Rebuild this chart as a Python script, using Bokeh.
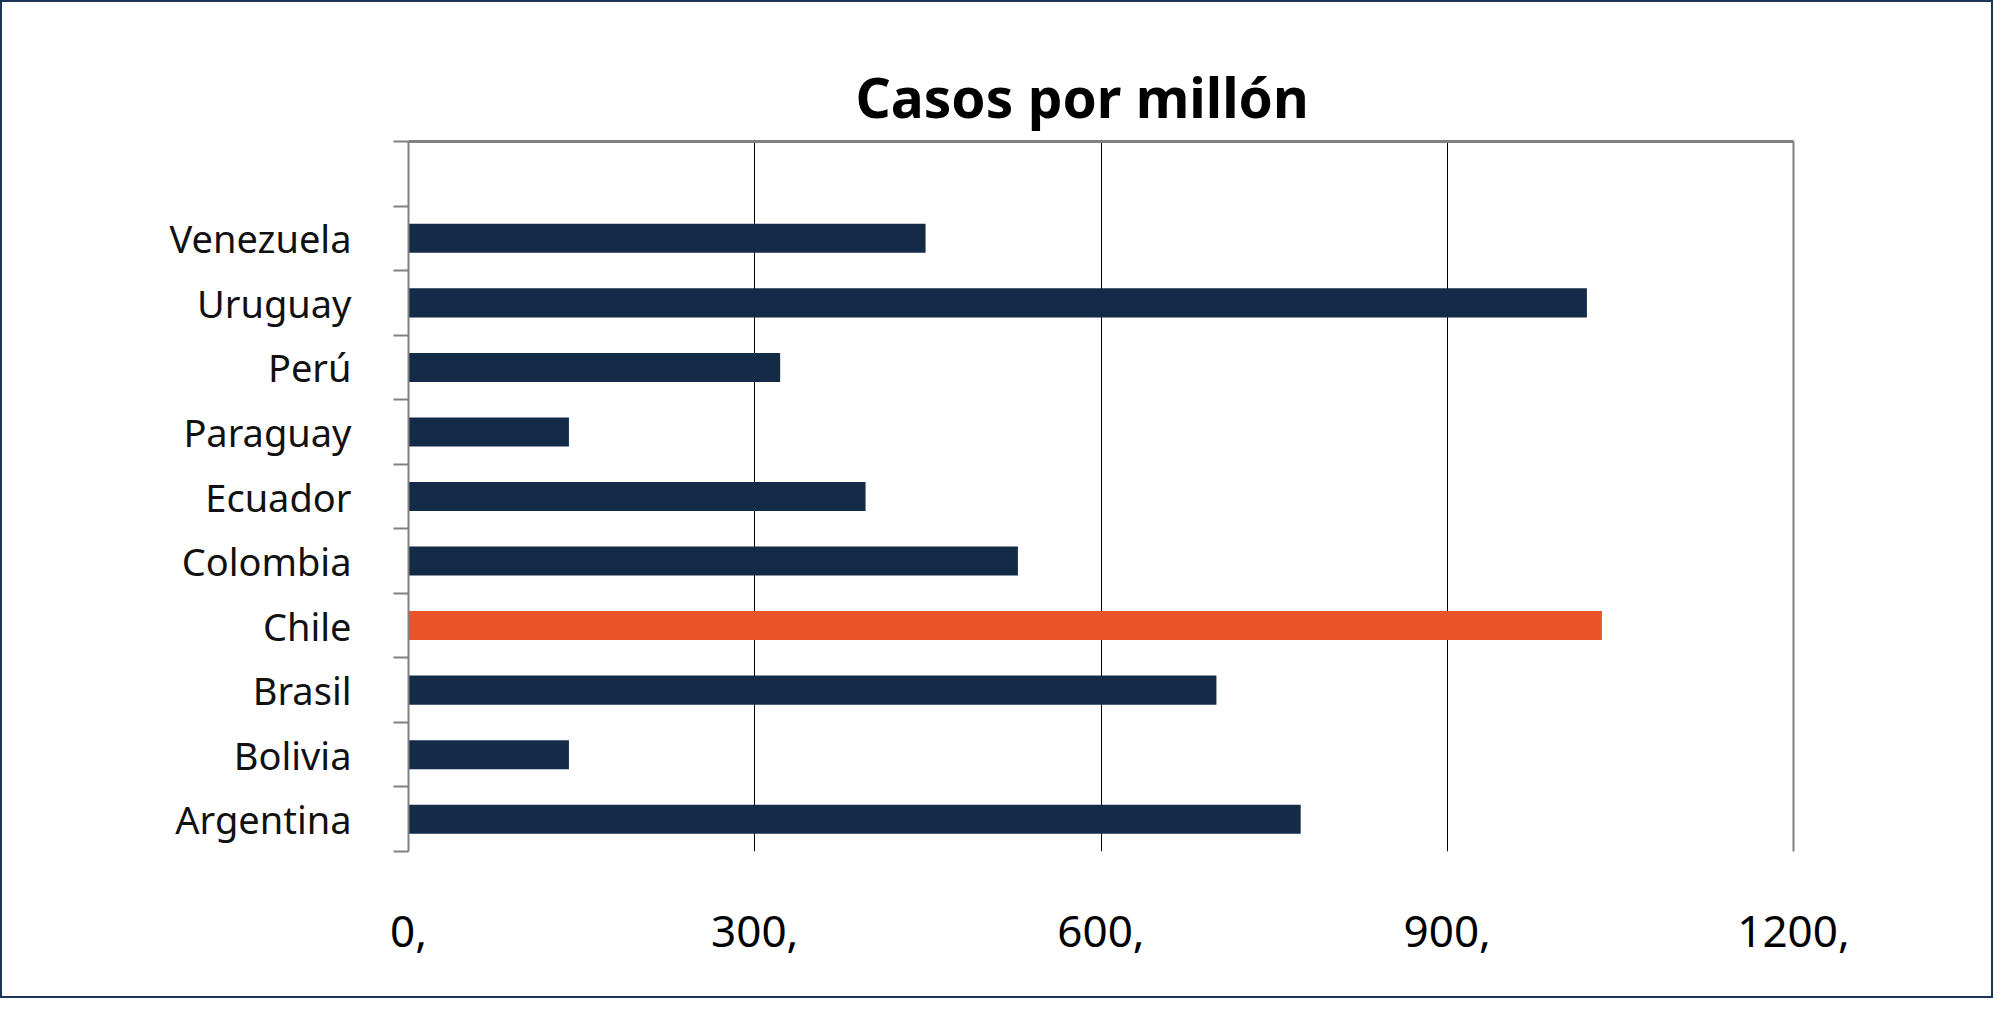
from bokeh.plotting import figure
from bokeh.models import ColumnDataSource, FixedTicker, LinearAxis, Range1d
from bokeh.embed import file_html
from bokeh.resources import INLINE

# ---- data ----
countries = ["Argentina", "Bolivia", "Brasil", "Chile", "Colombia",
             "Ecuador", "Paraguay", "Perú", "Uruguay", "Venezuela"]
cases = [773, 139, 700, 1034, 528, 396, 139, 322, 1021, 448]
highlight = "Chile"
x_ticks = [0, 300, 600, 900, 1200]
x_tick_labels = ["0,", "300,", "600,", "900,", "1200,"]
title_text = "Casos por millón"

NAVY = "#132b47"
ORANGE = "#e9532a"
FONT = "Noto Sans"

pos = list(range(len(countries)))
colors = [ORANGE if c == highlight else NAVY for c in countries]
source = ColumnDataSource(dict(pos=pos, cases=cases, country=countries, color=colors))

p = figure(width=1993, height=998, output_backend="svg", toolbar_location=None,
           x_range=Range1d(0, 1200), y_range=Range1d(-0.5, len(countries) + 0.5),
           min_border_left=406, min_border_right=202, min_border_top=139,
           min_border_bottom=149, outline_line_color=None,
           styles={"border": "2px solid #1d3557", "box-sizing": "border-box"})

p.hbar(y="pos", right="cases", left=0, height=0.45, fill_color="color",
       line_color=None, source=source)

# title
p.title.text = title_text
p.title.align = "left"
p.title.offset = 447
p.title.standoff = 16
p.title.text_font = FONT
p.title.text_font_size = "55px"
p.title.text_font_style = "bold"
p.title.text_color = "#000000"

# x axis (bottom)
xa = p.xaxis[0]
xa.ticker = FixedTicker(ticks=x_ticks)
xa.major_label_overrides = {t: l for t, l in zip(x_ticks, x_tick_labels)}
xa.axis_line_color = None
xa.major_tick_line_color = None
xa.minor_tick_line_color = None
xa.major_label_text_font = FONT
xa.major_label_text_font_size = "44px"
xa.major_label_text_color = "#000000"
xa.major_label_standoff = 58

# y axis (left): labels at centers, ticks at boundaries
ya = p.yaxis[0]
boundaries = [i - 0.5 for i in range(len(countries) + 2)]
ya.ticker = FixedTicker(ticks=pos, minor_ticks=boundaries)
ya.major_label_overrides = {i: c for i, c in zip(pos, countries)}
ya.major_tick_line_color = None
ya.major_tick_out = 0
ya.major_tick_in = 0
ya.minor_tick_out = 15
ya.minor_tick_in = 0
ya.minor_tick_line_color = "#808080"
ya.minor_tick_line_width = 2
ya.axis_line_color = "#808080"
ya.axis_line_width = 2
ya.major_label_text_font = FONT
ya.major_label_text_font_size = "38px"
ya.major_label_text_color = "#111111"
ya.major_label_standoff = 42

# frame lines top and right
top_axis = LinearAxis(ticker=FixedTicker(ticks=[]), axis_line_color="#808080",
                      axis_line_width=3, major_label_text_font_size="0px",
                      major_tick_line_color=None, minor_tick_line_color=None)
p.add_layout(top_axis, "above")
right_axis = LinearAxis(ticker=FixedTicker(ticks=[]), axis_line_color="#808080",
                        axis_line_width=2, major_label_text_font_size="0px",
                        major_tick_line_color=None, minor_tick_line_color=None)
p.add_layout(right_axis, "right")

# grid
p.xgrid.ticker = FixedTicker(ticks=x_ticks)
p.xgrid.grid_line_color = "#000000"
p.xgrid.grid_line_width = 1
p.ygrid.grid_line_color = None

open("out.html", "w").write(file_html(p, INLINE))
